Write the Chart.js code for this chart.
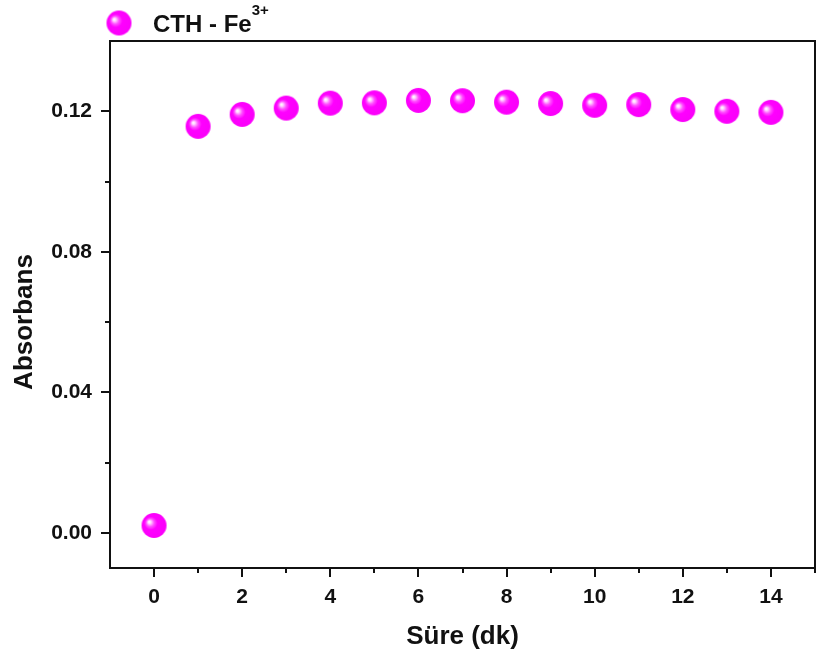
<!DOCTYPE html>
<html>
<head>
<meta charset="utf-8">
<script src="https://cdn.jsdelivr.net/npm/chart.js@4/dist/chart.umd.min.js"></script>
<style>
  html, body { margin: 0; padding: 0; background: #fff; }
  canvas { display: block; }
</style>
</head>
<body>
<canvas id="c" width="817" height="655"></canvas>
<script>
// absorbans x tempo, CTH - Fe3+
const tempo = [0, 1, 2, 3, 4, 5, 6, 7, 8, 9, 10, 11, 12, 13, 14];
const absorbans = [0.0021, 0.1157, 0.1191, 0.1209, 0.1223, 0.1224, 0.1231, 0.1230,
  0.1226, 0.1222, 0.1217, 0.1219, 0.1205, 0.1200, 0.1197];
const xTicks = [0, 2, 4, 6, 8, 10, 12, 14];
const yTicks = [0, 0.04, 0.08, 0.12];
const seriesLabel = 'CTH - Fe';
const seriesSup = '3+';
const yTitle = 'Absorbans';
const xTitle = 'Süre (dk)';

const FONT = "'Liberation Sans', Arial, sans-serif";
const INK = '#111';

// esfera magenta com brilho no canto superior esquerdo
function makeBall(r) {
  const c = document.createElement('canvas');
  const s = Math.ceil(r * 2) + 2;
  c.width = s; c.height = s;
  const g = c.getContext('2d');
  const cx = s / 2, cy = s / 2;
  const grad = g.createRadialGradient(cx - r * 0.4, cy - r * 0.3, 0, cx - r * 0.1, cy - r * 0.05, r * 1.05);
  grad.addColorStop(0, '#ffffff');
  grad.addColorStop(0.1, '#ffe0ff');
  grad.addColorStop(0.3, '#ff50ff');
  grad.addColorStop(0.5, '#ff00ff');
  grad.addColorStop(1, '#fa00fa');
  g.fillStyle = grad;
  g.beginPath();
  g.arc(cx, cy, r, 0, Math.PI * 2);
  g.fill();
  return c;
}
const ball = makeBall(12.5);

// moldura, ticks maiores/menores, titulo do eixo y e legenda
const framePlugin = {
  id: 'frame',
  afterDraw(chart) {
    const { ctx, chartArea: a, scales: { x, y } } = chart;
    ctx.save();
    ctx.strokeStyle = INK;
    ctx.lineWidth = 2;
    ctx.strokeRect(a.left, a.top, a.right - a.left, a.bottom - a.top);

    ctx.beginPath();
    for (let v = 0; v <= 15; v++) {
      const px = Math.round(x.getPixelForValue(v));
      const len = v % 2 === 0 ? 9 : 5;
      ctx.moveTo(px, a.bottom);
      ctx.lineTo(px, a.bottom + len);
    }
    for (let i = 0; i <= 6; i++) {
      const v = i * 0.02;
      const py = Math.round(y.getPixelForValue(v));
      const len = i % 2 === 0 ? 9 : 5;
      ctx.moveTo(a.left, py);
      ctx.lineTo(a.left - len, py);
    }
    ctx.stroke();

    ctx.fillStyle = INK;

    // titulo y fica um pouco abaixo do centro da area
    ctx.save();
    ctx.translate(32, 322);
    ctx.rotate(-Math.PI / 2);
    ctx.textAlign = 'center';
    ctx.textBaseline = 'alphabetic';
    ctx.font = 'bold 26px ' + FONT;
    ctx.fillText(yTitle, 0, 0);
    ctx.restore();

    // legenda
    ctx.drawImage(ball, 119 - ball.width / 2, 23 - ball.height / 2);
    ctx.textBaseline = 'alphabetic';
    ctx.font = 'bold 24px ' + FONT;
    ctx.fillText(seriesLabel, 153, 32);
    const w = ctx.measureText(seriesLabel).width;
    ctx.font = 'bold 15px ' + FONT;
    ctx.fillText(seriesSup, 153 + w, 15);
    ctx.restore();
  }
};

new Chart(document.getElementById('c'), {
  type: 'scatter',
  data: {
    datasets: [{
      label: seriesLabel,
      data: tempo.map((t, i) => ({ x: t, y: absorbans[i] })),
      pointStyle: ball,
      pointRadius: 12.5,
      pointHoverRadius: 12.5,
    }],
  },
  options: {
    responsive: false,
    animation: false,
    layout: { autoPadding: false, padding: { top: 41, right: 2, left: 0, bottom: 0 } },
    plugins: { legend: { display: false }, tooltip: { enabled: false } },
    scales: {
      x: {
        type: 'linear',
        min: -1,
        max: 15,
        afterFit: (s) => { s.height = 87; s.paddingLeft = 0; s.paddingRight = 0; },
        afterBuildTicks: (s) => { s.ticks = xTicks.map((v) => ({ value: v })); },
        grid: { display: false, drawTicks: false },
        border: { display: false },
        ticks: {
          color: INK,
          padding: 17,
          maxRotation: 0,
          font: { family: FONT, size: 21, weight: 'bold' },
        },
        title: {
          display: true,
          text: xTitle,
          color: INK,
          padding: { top: 0, bottom: 3 },
          font: { family: FONT, size: 26, weight: 'bold' },
        },
      },
      y: {
        min: -0.01,
        max: 0.14,
        afterFit: (s) => { s.width = 110; s.paddingTop = 0; s.paddingBottom = 0; },
        afterBuildTicks: (s) => { s.ticks = yTicks.map((v) => ({ value: v })); },
        grid: { display: false, drawTicks: false },
        border: { display: false },
        ticks: {
          color: INK,
          padding: 18,
          callback: (v) => v.toFixed(2),
          font: { family: FONT, size: 21, weight: 'bold' },
        },
      },
    },
  },
  plugins: [framePlugin],
});
</script>
</body>
</html>
